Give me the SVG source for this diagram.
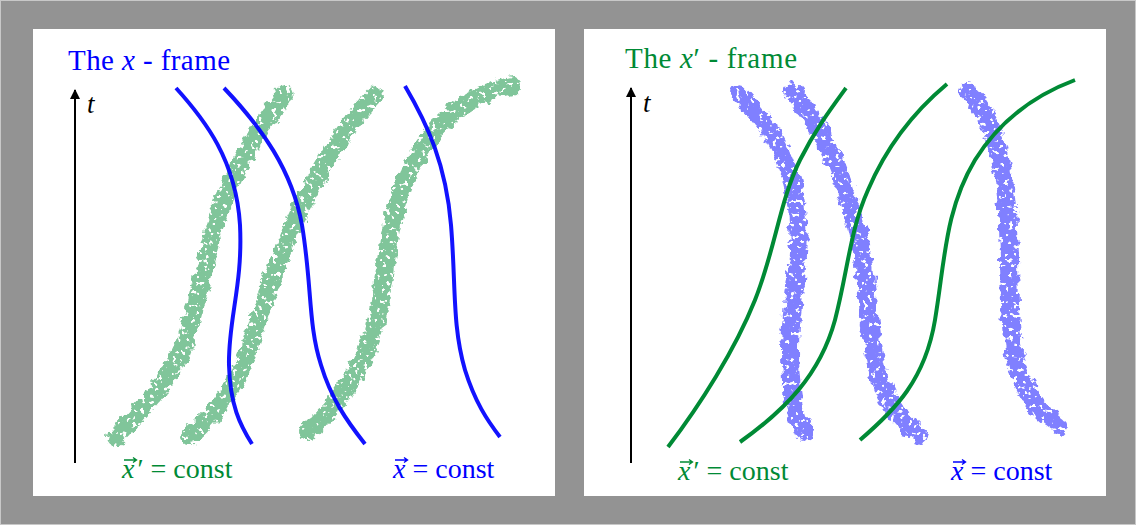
<svg xmlns="http://www.w3.org/2000/svg" width="1136" height="525" viewBox="0 0 1136 525">
<style>
  text { font-family: "Liberation Serif", "Times New Roman", serif; }
  .title { font-size: 29px; }
  .lbl { font-size: 28px; }
  .tl { font-size: 27px; }
  .it { font-style: italic; }
  .blue { fill: #0000ff; }
  .green { fill: #008a35; }
  .bline { fill: none; stroke: #0000ff; stroke-width: 4; stroke-linecap: butt; stroke-opacity: 0.93; }
  .gline { fill: none; stroke: #008a35; stroke-width: 4; stroke-linecap: butt; }
  .gchalk { fill: none; stroke: #80c59a; stroke-width: 18; stroke-linecap: round; }
  .bchalk { fill: none; stroke: #8080ff; stroke-width: 18; stroke-linecap: round; }
  .axis { fill: none; stroke: #000; stroke-width: 2; }
  .vec { fill: none; stroke-width: 1.4; }
</style>
<defs>
  <marker id="ah" viewBox="0 0 10 10" refX="9" refY="5" markerWidth="5" markerHeight="5" orient="auto">
    <path d="M0,0 L10,5 L0,10 z" fill="#000"/>
  </marker>
  <filter id="chalk" x="-20%" y="-20%" width="140%" height="140%">
    <feTurbulence type="fractalNoise" baseFrequency="0.12" numOctaves="3" seed="3" result="n"/>
    <feDisplacementMap in="SourceGraphic" in2="n" scale="10" xChannelSelector="R" yChannelSelector="G" result="d"/>
    <feTurbulence type="fractalNoise" baseFrequency="0.22" numOctaves="2" seed="11" result="n2"/>
    <feColorMatrix in="n2" type="matrix" values="0 0 0 0 0  0 0 0 0 0  0 0 0 0 0  0 0 0 -16 11" result="mask"/>
    <feComposite in="d" in2="mask" operator="in"/>
  </filter>
</defs>

<rect x="0" y="0" width="1136" height="525" fill="#939393"/>
<rect x="0.5" y="0.5" width="1135" height="524" fill="none" stroke="#c8c8c8" stroke-width="1"/>

<g id="panel-left">
  <rect x="33" y="29" width="522" height="467" fill="#fff"/>
  <text class="title blue" x="68" y="70" textLength="162" lengthAdjust="spacing">The <tspan class="it">x</tspan> - frame</text>
  <g id="axis-left">
    <line class="axis" x1="75" y1="463" x2="75" y2="90" marker-end="url(#ah)"/>
    <text class="tl it" x="87" y="113">t</text>
  </g>
  <g id="chalk-left" filter="url(#chalk)">
    <path class="gchalk" d="M116,437 C150,400 180,370 192,320 C205,270 212,230 228,190 C245,150 265,120 284,95"/>
    <path class="gchalk" d="M189,437 C220,410 240,380 252,340 C265,300 280,250 300,210 C320,170 345,125 375,95"/>
    <path class="gchalk" d="M308,432 C340,400 365,370 376,320 C388,270 385,230 405,180 C425,130 465,95 512,85"/>
  </g>
  <g id="lines-left">
    <path class="bline" d="M176,88 C205,120 236,160 240,225 C243,285 228,320 229,365 C230,405 240,425 252,444"/>
    <path class="bline" d="M224,88 C262,128 292,170 302,225 C312,285 308,325 321,365 C331,398 346,420 365,444"/>
    <path class="bline" d="M405,86 C428,125 446,165 451,225 C456,285 452,325 465,370 C475,402 487,420 500,437"/>
  </g>
  <g id="label-left-1">
    <text class="lbl green" x="122" y="478"><tspan class="it">x</tspan><tspan dx="3">′</tspan> = const</text>
    <path class="vec" stroke="#008a35" d="M124,460 L136,460 M133,457.5 L136.5,460 L133,462.5"/>
  </g>
  <g id="label-left-2">
    <text class="lbl blue" x="393" y="478"><tspan class="it">x</tspan> = const</text>
    <path class="vec" stroke="#0000ff" d="M395,460 L407,460 M404,457.5 L407.5,460 L404,462.5"/>
  </g>
</g>

<g id="panel-right">
  <rect x="584" y="29" width="522" height="467" fill="#fff"/>
  <text class="title green" x="625" y="68" textLength="172" lengthAdjust="spacing">The <tspan class="it">x</tspan>′ - frame</text>
  <g id="axis-right">
    <line class="axis" x1="631" y1="463" x2="631" y2="88" marker-end="url(#ah)"/>
    <text class="tl it" x="643" y="112">t</text>
  </g>
  <g id="chalk-right" filter="url(#chalk)">
    <path class="bchalk" d="M738,93 C762,117 790,150 797,210 C803,260 790,300 790,350 C790,400 797,418 803,432"/>
    <path class="bchalk" d="M791,91 C810,112 835,150 855,220 C870,270 865,330 880,380 C890,410 905,424 919,434"/>
    <path class="bchalk" d="M967,91 C990,112 1003,150 1007,210 C1012,280 1005,340 1022,380 C1032,405 1045,415 1059,425"/>
  </g>
  <g id="lines-right">
    <path class="gline" d="M668,447 C700,405 735,350 755,300 C775,250 780,200 800,160 C815,130 830,110 846,88"/>
    <path class="gline" d="M740,442 C785,410 820,375 835,320 C848,270 850,230 868,190 C885,150 910,115 947,84"/>
    <path class="gline" d="M860,440 C895,410 925,380 935,320 C945,260 945,210 975,160 C1000,120 1035,95 1075,80"/>
  </g>
  <g id="label-right-1">
    <text class="lbl green" x="678" y="480"><tspan class="it">x</tspan><tspan dx="3">′</tspan> = const</text>
    <path class="vec" stroke="#008a35" d="M680,462 L692,462 M689,459.5 L692.5,462 L689,464.5"/>
  </g>
  <g id="label-right-2">
    <text class="lbl blue" x="951" y="480"><tspan class="it">x</tspan> = const</text>
    <path class="vec" stroke="#0000ff" d="M953,462 L965,462 M962,459.5 L965.5,462 L962,464.5"/>
  </g>
</g>
</svg>
